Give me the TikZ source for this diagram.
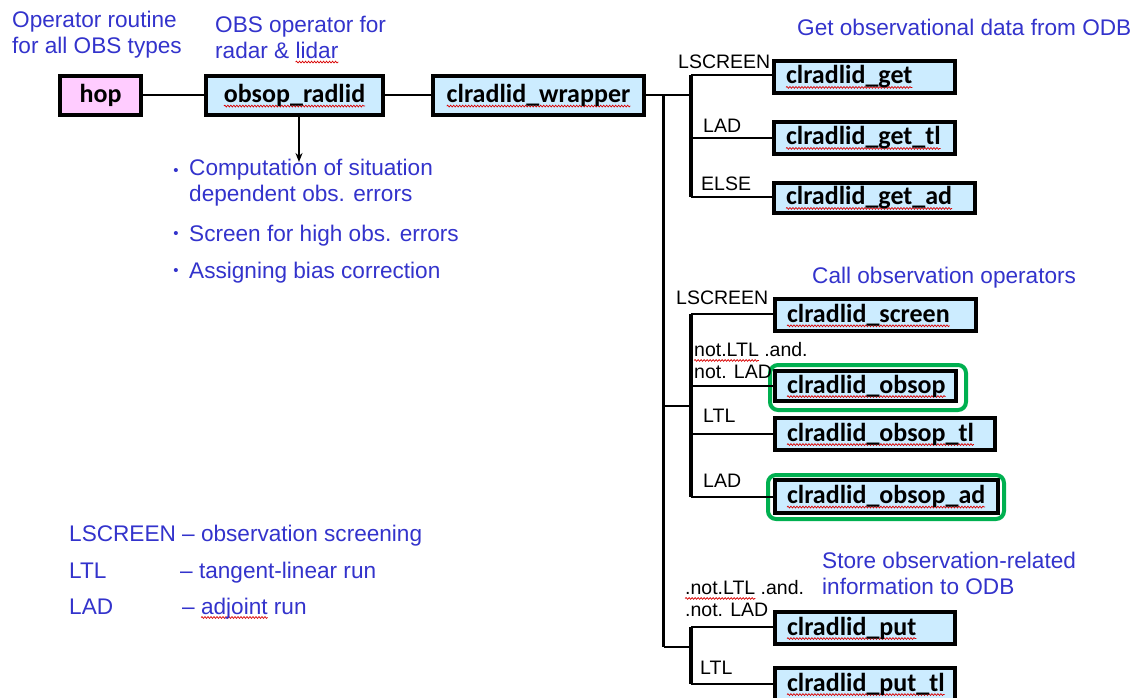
\documentclass[tikz,border=0pt]{standalone}
\usepackage{fontspec}
\setmainfont{Liberation Sans}
\newfontfamily\boxfont{Carlito}
\usetikzlibrary{arrows.meta,decorations.pathmorphing}
\definecolor{bluetxt}{RGB}{51,51,204}
\definecolor{boxblue}{RGB}{204,236,255}
\definecolor{boxpink}{RGB}{255,204,255}
\definecolor{grn}{RGB}{0,176,80}
\newsavebox\sqbox
\newcommand\sq[1]{\sbox\sqbox{#1}\rlap{\tikz[overlay,x=1pt,y=1pt]\draw[red!85!black,line width=0.7pt,decorate,decoration={snake,amplitude=0.9pt,segment length=3pt}] (0,-3.5) -- (\the\wd\sqbox,-3.5);}\usebox\sqbox}
\begin{document}
\begin{tikzpicture}[x=1pt,y=-1pt,
  bx/.style={draw=black, line width=4pt, fill=boxblue, inner sep=0pt,
    font=\boxfont\bfseries\fontsize{26}{28}\selectfont},
  cbox/.style n args={2}{bx, minimum width=#1, minimum height=#2},
  rbox/.style n args={2}{bx, text width=#1-24pt, inner xsep=12pt, minimum height=#2, align=left},
  gframe/.style={draw=grn, line width=4pt, rounded corners=8pt},
  trunk/.style={line width=3.5pt},
  conn/.style={line width=2pt},
  bluet/.style={text=bluetxt, inner sep=0pt, anchor=west, align=left,
    font=\fontsize{22.6}{26}\selectfont},
  bluel/.style={bluet, anchor=base west},
  lab/.style={inner sep=0pt, anchor=base west, align=left,
    font=\fontsize{19.5}{22}\selectfont},
  labm/.style={lab, anchor=west},
  bul/.style={text=bluetxt, inner sep=0pt, font=\fontsize{15}{15}\selectfont}
]
\useasboundingbox (0,0) rectangle (1136,698);
\fill[white] (0,0) rectangle (1136,698);

% main boxes
\node[cbox={81}{39}, fill=boxpink] (hop) at (100.5,95.5) {hop};
\node[cbox={177}{39}] (obsop) at (294.5,95.5) {\sq{obsop\_radlid}};
\node[cbox={211}{39}] (wrap) at (538.5,95.5) {\sq{clradlid\_wrapper}};

% right boxes
\node[rbox={181}{32}] (get) at (864.5,77) {\sq{clradlid\_get}};
\node[rbox={181}{32}] (gettl) at (864.5,138) {\sq{clradlid\_get\_tl}};
\node[rbox={201}{30}] (getad) at (874.5,198) {\sq{clradlid\_get\_ad}};
\node[rbox={201}{32}] (scr) at (875.5,315) {\sq{clradlid\_screen}};
\node[rbox={181}{30}] (oop) at (865.5,386) {\sq{clradlid\_obsop}};
\node[rbox={220}{32}] (ooptl) at (885,434) {\sq{clradlid\_obsop\_tl}};
\node[rbox={223}{33}] (oopad) at (886.5,496.5) {\sq{clradlid\_obsop\_ad}};
\node[rbox={180}{32}] (put) at (865,628) {\sq{clradlid\_put}};
\node[rbox={180}{32}] (puttl) at (865,684) {\sq{clradlid\_put\_tl}};

% green frames
\draw[gframe] (770,365) rectangle (966,410);
\draw[gframe] (768,475) rectangle (1004,519);

% junction coordinates
\coordinate (mt) at (663.5,95.5);
\coordinate (mb) at (663.5,647);
\coordinate (s1t) at (691,75);
\coordinate (s1b) at (691,197);
\coordinate (s2t) at (691,314);
\coordinate (s2b) at (691,497);
\coordinate (s2m) at (691,406);
\coordinate (s3t) at (691,627);
\coordinate (s3b) at (691,684);

% connectors
\draw[conn] (hop) -- (obsop);
\draw[conn] (obsop) -- (wrap);
\draw[conn] (wrap.east) -- (s1t |- wrap.east);
\draw[trunk] (mt) -- (mb);
\draw[trunk] (s1t) -- (s1b);
\draw[conn] (s1t) -- (s1t -| get.west);
\draw[conn] (s1t |- gettl.west) -- (gettl.west);
\draw[conn] (s1b) -- (s1b -| getad.west);
\draw[conn] (mt |- s2m) -- (s2m);
\draw[trunk] (s2t) -- (s2b);
\draw[conn] (s2t) -- (s2t -| scr.west);
\draw[conn] (s2t |- oop.west) -- (oop.west);
\draw[conn] (s2t |- ooptl.west) -- (ooptl.west);
\draw[conn] (s2b) -- (s2b -| oopad.west);
\draw[conn] (mb) -- (mb -| s3t);
\draw[trunk] (s3t) -- (s3b);
\draw[conn] (s3t) -- (s3t -| put.west);
\draw[conn] (s3b) -- (puttl.west);
\draw[conn, -{Stealth[length=9pt,width=7pt]}] ([xshift=4.5pt]obsop.south) -- ++(0,45);

% branch labels
\node[lab] (l1) at (678,69) {LSCREEN};
\node[lab] (l2) at (703,133) {LAD};
\node[lab] (l3) at (701,190) {ELSE};
\node[lab] (l4) at (676,304) {LSCREEN};
\node[labm] (l5) at (694,361) {\sq{not.LTL} .and.\\not. LAD};
\node[lab] (l6) at (703,422) {LTL};
\node[lab] (l7) at (703,487) {LAD};
\node[labm] (l8) at (685,599) {\sq{.not.LTL} .and.\\.not. LAD};
\node[lab] (l9) at (700,674) {LTL};

% blue texts
\node[bluet] (t1) at (12,35) {Operator routine\\for all OBS types};
\node[bluet] (t2) at (215,37.5) {OBS operator for\\radar \& \sq{lidar}};
\node[bluel] (t3) at (797,36) {Get observational data from ODB};
\node[bluel] (t4) at (812,283) {Call observation operators};
\node[bluet] (t5) at (822,573) {Store observation-related\\information to ODB};

\node[bul] (b1) at (176,172) {•};
\node[bluet] (bt1) at (189,183) {Computation of situation\\dependent obs. errors};
\node[bul] (b2) at (176,235) {•};
\node[bluel] (bt2) at (189,241) {Screen for high obs. errors};
\node[bul] (b3) at (176,272) {•};
\node[bluel] (bt3) at (189,278) {Assigning bias correction};

\node[bluel] (g1) at (69,541) {LSCREEN – observation screening};
\node[bluel] (g2) at (69,578) {LTL};
\node[bluel] (g3) at (180,578) {– tangent-linear run};
\node[bluel] (g4) at (69,614) {LAD};
\node[bluel] (g5) at (182,614) {– \sq{adjoint} run};
\end{tikzpicture}
\end{document}
